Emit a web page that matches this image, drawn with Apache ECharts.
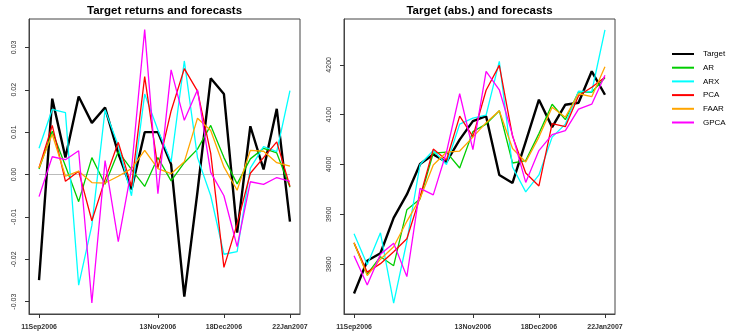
<!DOCTYPE html>
<html><head><meta charset="utf-8">
<script src="https://cdn.jsdelivr.net/npm/echarts@6/dist/echarts.min.js"></script>
<style>html,body{margin:0;padding:0;background:#fff}#c{width:733px;height:331px}</style>
</head><body><div id="c"></div>
<script>
// ---- data ----
const dates = ['11Sep2006','18Sep2006','25Sep2006','02Oct2006','09Oct2006','16Oct2006','23Oct2006','30Oct2006','06Nov2006','13Nov2006',
               '20Nov2006','27Nov2006','04Dec2006','11Dec2006','18Dec2006','25Dec2006','01Jan2007','08Jan2007','15Jan2007','22Jan2007'];
const xTickLabels = ['11Sep2006','13Nov2006','18Dec2006','22Jan2007'];
const seriesNames = ['Target','AR','ARX','PCA','FAAR','GPCA'];

// returns (left panel)
const retTarget = [-0.0249, 0.0179, 0.0040, 0.0184, 0.0122, 0.0158, 0.0050, -0.0035, 0.0100, 0.0100, 0.0024, -0.0288, -0.0040, 0.0227, 0.0190, -0.0137, 0.0114, 0.0012, 0.0155, -0.0111];
const retAR     = [0.0013, 0.0102, 0.0020, -0.0064, 0.0040, -0.0023, 0.0054, 0.0012, -0.0028, 0.0040, -0.0015, 0.0028, 0.0060, 0.0116, 0.0040, -0.0022, 0.0037, 0.0062, 0.0051, -0.0030];
const retARX    = [0.0062, 0.0154, 0.0146, -0.0261, -0.0120, 0.0153, 0.0068, -0.0050, 0.0190, 0.0105, 0.0030, 0.0268, 0.0040, -0.0050, -0.0188, -0.0182, 0.0015, 0.0066, 0.0054, 0.0198];
const retPCA    = [0.0016, 0.0116, -0.0016, 0.0008, -0.0109, -0.0012, 0.0076, -0.0028, 0.0231, 0.0015, 0.0150, 0.0250, 0.0197, 0.0050, -0.0219, -0.0117, 0.0003, 0.0040, 0.0077, -0.0028];
const retFAAR   = [0.0016, 0.0095, -0.0004, 0.0008, -0.0019, -0.0020, -0.0004, 0.0014, 0.0057, 0.0014, 0.0002, 0.0030, 0.0133, 0.0104, 0.0018, -0.0037, 0.0057, 0.0055, 0.0028, 0.0020];
const retGPCA   = [-0.0052, 0.0042, 0.0035, 0.0056, -0.0303, 0.0033, -0.0158, 0.0012, 0.0342, -0.0045, 0.0247, 0.0128, 0.0200, 0.0005, -0.0050, -0.0170, -0.0017, -0.0023, -0.0007, -0.0016];

// levels (right panel)
const absTarget = [3741, 3807, 3822, 3893, 3940, 4001, 4020, 4005, 4050, 4087, 4097, 3979, 3963, 4046, 4130, 4075, 4120, 4124, 4187, 4140];
const absAR     = [3842, 3780, 3815, 3797, 3909, 3931, 4023, 4025, 3993, 4066, 4081, 4108, 4003, 4008, 4062, 4121, 4090, 4146, 4145, 4174];
const absARX    = [3861, 3799, 3863, 3722, 3846, 4000, 4028, 4000, 4081, 4093, 4099, 4207, 3995, 3945, 3979, 4055, 4081, 4147, 4146, 4270];
const absPCA    = [3843, 3784, 3801, 3825, 3851, 3935, 4031, 4009, 4097, 4056, 4149, 4199, 4057, 3983, 3957, 4082, 4076, 4138, 4155, 4175];
const absFAAR   = [3843, 3777, 3810, 3835, 3886, 3932, 3999, 4025, 4027, 4055, 4084, 4108, 4032, 4005, 4055, 4115, 4095, 4142, 4136, 4196];
const absGPCA   = [3817, 3758, 3820, 3842, 3775, 3952, 3939, 4025, 4142, 4030, 4187, 4150, 4059, 3964, 4028, 4060, 4068, 4111, 4121, 4179];

const retTicks = [-0.03, -0.02, -0.01, 0, 0.01, 0.02, 0.03];
const absTicks = [3800, 3900, 4000, 4100, 4200];

// ---- build ----
const colors = ['#000000', '#00cd00', '#00ffff', '#ff0000', '#ffa500', '#ff00ff'];
const widths = [2.4, 1.3, 1.3, 1.3, 1.3, 1.3];
const retData = [retTarget, retAR, retARX, retPCA, retFAAR, retGPCA];
const absData = [absTarget, absAR, absARX, absPCA, absFAAR, absGPCA];
const xTickIdx = xTickLabels.map(d => dates.indexOf(d));
const FONT = '"Liberation Sans", Arial, Helvetica, sans-serif';

function xAxisFor(gi) {
  return {
    type: 'value', gridIndex: gi, min: -0.76, max: dates.length - 1 + 0.76, position: 'bottom',
    axisLine: { show: true, onZero: false, lineStyle: { color: '#444', width: 1 } }, splitLine: { show: false },
    axisTick: { show: true, customValues: xTickIdx, length: 4, inside: false, lineStyle: { color: '#333', width: 1 } },
    axisLabel: { show: true, customValues: xTickIdx, formatter: v => dates[Math.round(v)], fontSize: 7, fontWeight: 'bold',
                 color: '#333', fontFamily: FONT, margin: 10 }
  };
}
function yAxisFor(gi, min, max, ticks, fmt) {
  return {
    type: 'value', gridIndex: gi, min: min, max: max, position: 'left',
    axisLine: { show: true, onZero: false, lineStyle: { color: '#444', width: 1 } }, splitLine: { show: false },
    axisTick: { show: true, customValues: ticks, length: 4, inside: false, lineStyle: { color: '#333', width: 1 } },
    axisLabel: { show: true, customValues: ticks, formatter: fmt, rotate: 90, fontSize: 7, color: '#333',
                 fontFamily: FONT, margin: 11, inside: false }
  };
}

const series = [];
seriesNames.forEach((n, k) => {
  const s = {
    name: n, type: 'line', xAxisIndex: 0, yAxisIndex: 0, symbol: 'none', showSymbol: false,
    data: retData[k].map((v, i) => [i, v]),
    lineStyle: { color: colors[k], width: widths[k] }, itemStyle: { color: colors[k] },
    z: 3, animation: false
  };
  if (k === 0) {
    s.markLine = {
      silent: true, symbol: 'none', animation: false, z: 1,
      label: { show: false },
      lineStyle: { color: '#bbbbbb', width: 1, type: 'solid' },
      data: [[{ coord: [0, 0] }, { coord: [dates.length - 1, 0] }]]
    };
  }
  series.push(s);
});
seriesNames.forEach((n, k) => {
  series.push({
    name: n, type: 'line', xAxisIndex: 1, yAxisIndex: 1, symbol: 'none', showSymbol: false,
    data: absData[k].map((v, i) => [i, v]),
    lineStyle: { color: colors[k], width: widths[k] }, itemStyle: { color: colors[k] },
    z: 3, animation: false
  });
});

const option = {
  animation: false,
  backgroundColor: '#ffffff',
  title: [
    { text: 'Target returns and forecasts', left: 164.5, top: 5, textAlign: 'center', padding: 0,
      textStyle: { fontSize: 11.5, fontWeight: 'bold', color: '#000', fontFamily: FONT } },
    { text: 'Target (abs.) and forecasts', left: 479.5, top: 5, textAlign: 'center', padding: 0,
      textStyle: { fontSize: 11.5, fontWeight: 'bold', color: '#000', fontFamily: FONT } }
  ],
  legend: {
    data: seriesNames.map((n, k) => ({ name: n, icon: 'rect' })),
    orient: 'vertical', left: 672, top: 50, padding: 0,
    itemWidth: 22, itemHeight: 2, itemGap: 5.7,
    textStyle: { fontSize: 8, color: '#000', fontFamily: FONT, lineHeight: 8, padding: [0, 0, 0, 4] }
  },
  grid: [
    { left: 29, top: 19, width: 271, height: 296, show: true, borderColor: '#444', borderWidth: 1, backgroundColor: 'transparent' },
    { left: 344, top: 19, width: 271, height: 296, show: true, borderColor: '#444', borderWidth: 1, backgroundColor: 'transparent' }
  ],
  xAxis: [xAxisFor(0), xAxisFor(1)],
  yAxis: [
    yAxisFor(0, -0.0329, 0.0367, retTicks, v => v.toFixed(2)),
    yAxisFor(1, 3700, 4292, absTicks, v => String(v))
  ],
  series: series
};

const chart = echarts.init(document.getElementById('c'), null, { renderer: 'canvas' });
chart.setOption(option);
</script>
</body></html>
